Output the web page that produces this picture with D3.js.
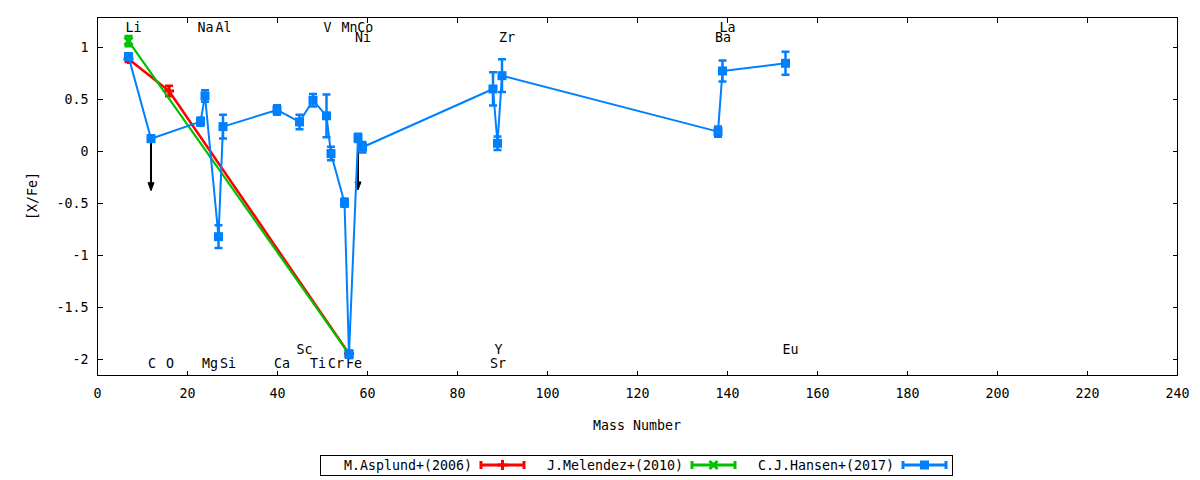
<!DOCTYPE html>
<html>
<head>
<meta charset="utf-8">
<script src="https://cdn.jsdelivr.net/npm/d3@7"></script>
<style>
  html, body { margin: 0; padding: 0; background: #fff; }
  svg { display: block; }
  text { font-family: "DejaVu Sans Mono", monospace; font-size: 13.3px; fill: #000; }
</style>
</head>
<body>
<svg id="chart" width="1200" height="480"></svg>
<script>
// ---------- data ----------
const xTicks = [0, 20, 40, 60, 80, 100, 120, 140, 160, 180, 200, 220, 240];
const yTicks = [-2, -1.5, -1, -0.5, 0, 0.5, 1];
const yTickLabels = ["-2", "-1.5", "-1", "-0.5", "0", "0.5", "1"];

// M.Asplund+(2006)
const asplundMass = [7, 16, 56];
const asplundVal  = [0.885, 0.577, -1.95];
const asplundErr  = [0.03, 0.05, 0.03];

// J.Melendez+(2010)
const melendezMass = [7, 56];
const melendezVal  = [1.056, -1.95];
const melendezErr  = [0.05, 0.03];

// C.J.Hansen+(2017)
const hansenElem = ["Li","C","Na","Mg","Al","Si","Ca","Sc","Ti","V","Cr","Mn","Fe","Ni","Co","Sr","Y","Zr","Ba","La","Eu"];
const hansenMass = [7, 12, 23, 24, 27, 28, 40, 45, 48, 51, 52, 55, 56, 58, 59, 88, 89, 90, 138, 139, 153];
const hansenVal  = [0.907, 0.118, 0.282, 0.529, -0.824, 0.234, 0.394, 0.279, 0.487, 0.338, -0.025, -0.497, -1.955, 0.125, 0.036, 0.596, 0.074, 0.724, 0.186, 0.769, 0.843];
const hansenErr  = [0.03, 0.03, 0.04, 0.055, 0.11, 0.115, 0.045, 0.07, 0.06, 0.205, 0.065, 0.04, 0.03, 0.04, 0.05, 0.16, 0.065, 0.157, 0.05, 0.10, 0.11];
// upper limits (drawn as downward arrows)
const upperLimitElem = ["C", "Ni"];
const upperLimitLength = 0.5;

// element name labels
const labelNames = ["Li","C","O","Na","Mg","Al","Si","Ca","Sc","Ti","V","Cr","Mn","Fe","Co","Ni","Sr","Y","Zr","Ba","La","Eu"];
const labelMass  = [7, 12, 16, 23, 24, 27, 28, 40, 45, 48, 51, 52, 55, 56, 58.5, 58, 88, 89, 90, 138, 139, 153];
const labelY     = [1.19, -2.04, -2.04, 1.19, -2.04, 1.19, -2.04, -2.04, -1.91, -2.04, 1.19, -2.04, 1.19, -2.04, 1.19, 1.09, -2.04, -1.91, 1.09, 1.09, 1.19, -1.91];

const seriesNames = ["M.Asplund+(2006)", "J.Melendez+(2010)", "C.J.Hansen+(2017)"];

// ---------- layout ----------
const svg = d3.select("#chart");
const X0 = 97, X1 = 1177, Y0 = 17, Y1 = 375;
const x = d3.scaleLinear().domain([0, 240]).range([X0, X1]);
const y = d3.scaleLinear().domain([-2.154, 1.288]).range([Y1, Y0]);

const colors = ["#ff0000", "#00c000", "#0080ff"];
const LW = [2.5, 2.2, 2];
const TICK = 5;

// ---------- labels (drawn behind data) ----------
svg.append("g").selectAll("text")
  .data(labelNames.map((n, i) => ({n, m: labelMass[i], v: labelY[i]})))
  .join("text")
  .attr("x", d => x(d.m) - 3)
  .attr("y", d => y(d.v))
  .attr("dominant-baseline", "central")
  .attr("text-anchor", "start")
  .text(d => d.n);

// ---------- border & ticks ----------
const axes = svg.append("g").attr("shape-rendering", "crispEdges");
axes.append("rect")
  .attr("x", X0 + 0.5).attr("y", Y0 + 0.5)
  .attr("width", X1 - X0).attr("height", Y1 - Y0)
  .attr("fill", "none").attr("stroke", "#000").attr("stroke-width", 1);

const xAxisB = d3.axisBottom(x).tickValues(xTicks).tickSize(-TICK).tickPadding(13).tickFormat(d3.format("d"));
const xAxisT = d3.axisTop(x).tickValues(xTicks).tickSize(-TICK).tickFormat("");
const yAxisL = d3.axisLeft(y).tickValues(yTicks).tickSize(-TICK).tickPadding(9).tickFormat((d, i) => yTickLabels[i]);
const yAxisR = d3.axisRight(y).tickValues(yTicks).tickSize(-TICK).tickFormat("");

function styleAxis(g) {
  g.select(".domain").remove();
  g.selectAll("line").attr("stroke", "#000");
  g.selectAll("text").attr("font-family", "DejaVu Sans Mono").attr("font-size", "13.3px").attr("fill", "#000");
}
axes.append("g").attr("transform", `translate(0,${Y1 + 0.5})`).call(xAxisB).call(styleAxis);
axes.append("g").attr("transform", `translate(0,${Y0 + 0.5})`).call(xAxisT).call(styleAxis);
axes.append("g").attr("transform", `translate(${X0 + 0.5},0)`).call(yAxisL).call(styleAxis);
axes.append("g").attr("transform", `translate(${X1 + 0.5},0)`).call(yAxisR).call(styleAxis);

// axis titles
svg.append("text")
  .attr("x", (X0 + X1) / 2).attr("y", 425)
  .attr("text-anchor", "middle").attr("dominant-baseline", "central")
  .text("Mass Number");
svg.append("text")
  .attr("transform", `translate(32,${(Y0 + Y1) / 2}) rotate(-90)`)
  .attr("text-anchor", "middle").attr("dominant-baseline", "central")
  .text("[X/Fe]");

// ---------- upper-limit arrows ----------
const arrows = svg.append("g");
hansenElem.forEach((e, i) => {
  if (!upperLimitElem.includes(e)) return;
  const px = x(hansenMass[i]);
  const py0 = y(hansenVal[i]);
  const py1 = y(hansenVal[i] - upperLimitLength);
  arrows.append("line")
    .attr("x1", px).attr("y1", py0).attr("x2", px).attr("y2", py1 - 6)
    .attr("stroke", "#000").attr("stroke-width", 2);
  arrows.append("path")
    .attr("d", `M${px - 3},${py1 - 8} L${px + 3},${py1 - 8} L${px},${py1} Z`)
    .attr("fill", "#000").attr("stroke", "#000").attr("stroke-width", 1);
});

// ---------- markers ----------
function drawMarker(g, kind, cx, cy, color) {
  if (kind === 0) { // plus
    g.append("path").attr("d", `M${cx - 5},${cy} H${cx + 5} M${cx},${cy - 5} V${cy + 5}`)
      .attr("stroke", color).attr("stroke-width", 3).attr("fill", "none");
  } else if (kind === 1) { // cross
    g.append("path").attr("d", `M${cx - 4},${cy - 4} L${cx + 4},${cy + 4} M${cx - 4},${cy + 4} L${cx + 4},${cy - 4}`)
      .attr("stroke", color).attr("stroke-width", 3).attr("fill", "none");
  } else { // filled square
    g.append("rect").attr("x", cx - 4.5).attr("y", cy - 4.5).attr("width", 9).attr("height", 9)
      .attr("fill", color);
  }
}

function drawSeries(mass, val, err, k) {
  const g = svg.append("g");
  const pts = mass.map((m, i) => ({m, v: val[i], e: err[i]}));
  const line = d3.line().x(d => x(d.m)).y(d => y(d.v));
  g.append("path").datum(pts).attr("d", line)
    .attr("fill", "none").attr("stroke", colors[k]).attr("stroke-width", LW[k])
    .attr("stroke-linejoin", "round");
  pts.forEach(d => {
    const px = x(d.m), pt = y(d.v + d.e), pb = y(d.v - d.e);
    g.append("path")
      .attr("d", `M${px},${pt} V${pb} M${px - 4},${pt} H${px + 4} M${px - 4},${pb} H${px + 4}`)
      .attr("stroke", colors[k]).attr("stroke-width", 2.5).attr("fill", "none");
    drawMarker(g, k, px, y(d.v), colors[k]);
  });
}

drawSeries(asplundMass, asplundVal, asplundErr, 0);
drawSeries(melendezMass, melendezVal, melendezErr, 1);
drawSeries(hansenMass, hansenVal, hansenErr, 2);

// ---------- legend ----------
const lg = svg.append("g");
lg.append("rect").attr("x", 320.5).attr("y", 455.5).attr("width", 632).attr("height", 20)
  .attr("fill", "none").attr("stroke", "#000").attr("stroke-width", 1).attr("shape-rendering", "crispEdges");
seriesNames.forEach((name, k) => {
  const tx = 472 + 211 * k;
  const sx0 = 481 + 211 * k, sx1 = 524 + 211 * k, sy = 465;
  lg.append("text").attr("x", tx).attr("y", sy)
    .attr("text-anchor", "end").attr("dominant-baseline", "central").text(name);
  lg.append("path")
    .attr("d", `M${sx0},${sy} H${sx1} M${sx0},${sy - 4} V${sy + 4} M${sx1},${sy - 4} V${sy + 4}`)
    .attr("stroke", colors[k]).attr("stroke-width", 3).attr("fill", "none");
  drawMarker(lg, k, (sx0 + sx1) / 2, sy, colors[k]);
});
</script>
</body>
</html>
